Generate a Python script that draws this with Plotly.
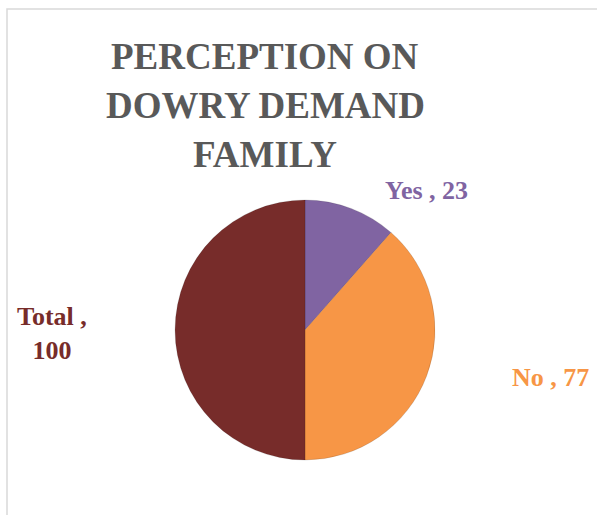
import plotly.graph_objects as go

categories = ["Yes", "No", "Total"]
values = [23, 77, 100]
colors = ["#8064A2", "#F79646", "#772C2A"]
title_lines = ["PERCEPTION ON", "DOWRY DEMAND", "FAMILY"]

W, H = 597, 515

fig = go.Figure()
fig.add_trace(go.Pie(
    labels=categories,
    values=values,
    marker=dict(colors=colors, line=dict(color="rgba(0,0,0,0.25)", width=0.5)),
    sort=False,
    direction="clockwise",
    rotation=0,
    textinfo="none",
    hoverinfo="label+value",
    showlegend=False,
    domain=dict(x=[170 / W, 440 / W], y=[1 - 460 / H, 1 - 200 / H]),
))

# data labels (text from data)
label_pos = {"Yes": (426, 190), "No": (550, 377), "Total": (52, 333)}
for cat, val, col in zip(categories, values, colors):
    px, py = label_pos[cat]
    txt = f"{cat} ,<br>{val}" if cat == "Total" else f"{cat} , {val}"
    fig.add_annotation(
        x=px / W, y=1 - py / H, xref="paper", yref="paper",
        text=f"<b>{txt}</b>", showarrow=False,
        font=dict(family="Liberation Serif", size=26, color=col),
        xanchor="center", yanchor="middle", align="center",
    )

# title lines
title_y = [56, 105, 154]
for line, ty in zip(title_lines, title_y):
    fig.add_annotation(
        x=265 / W, y=1 - ty / H, xref="paper", yref="paper",
        text=f"<b>{line}</b>", showarrow=False,
        font=dict(family="Liberation Serif", size=37, color="#595959"),
        xanchor="center", yanchor="middle",
    )

fig.update_layout(
    width=W, height=H,
    margin=dict(l=0, r=0, t=0, b=0),
    paper_bgcolor="white",
    plot_bgcolor="white",
    shapes=[dict(type="rect", xref="paper", yref="paper",
                 x0=7 / W, x1=1.05, y0=-0.05, y1=1 - 9 / H,
                 line=dict(color="#D9D9D9", width=1.5), fillcolor="rgba(0,0,0,0)")],
)

fig.write_html("out.html")
